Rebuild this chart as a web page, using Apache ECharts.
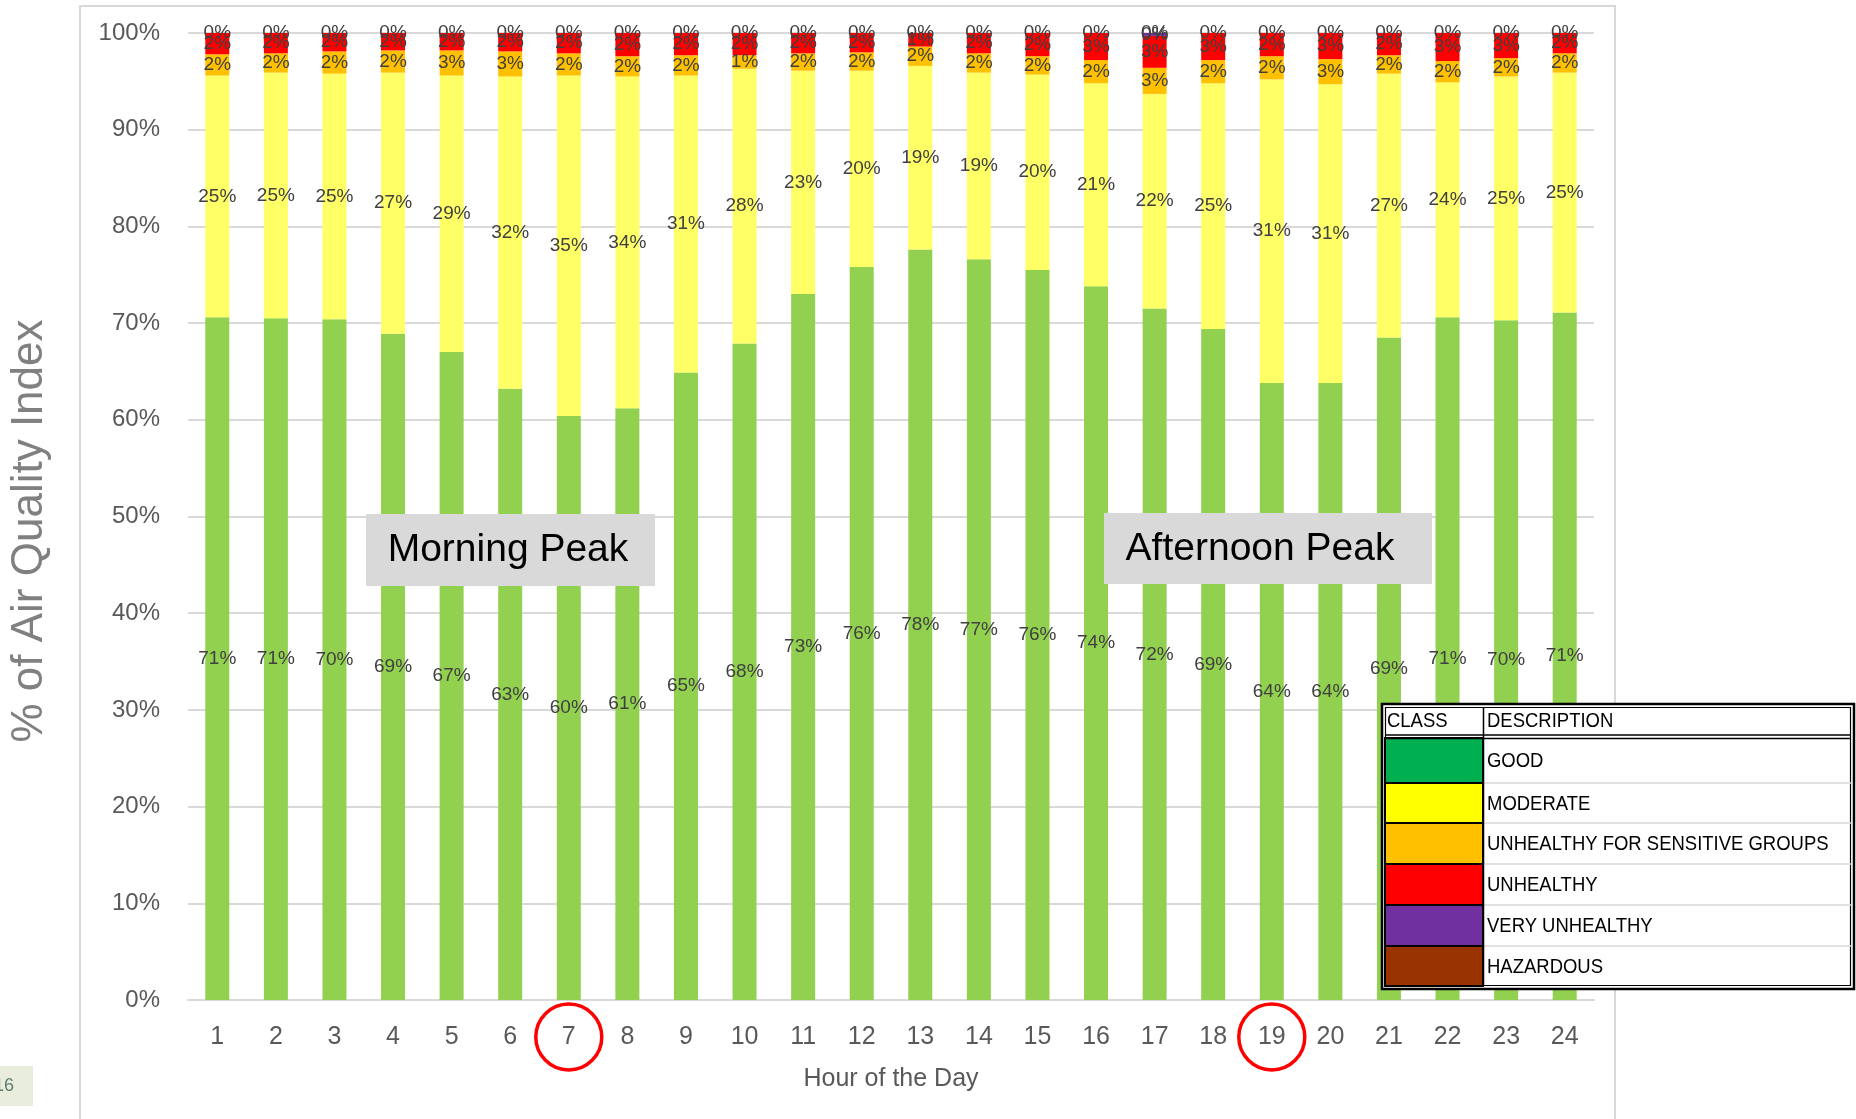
<!DOCTYPE html>
<html>
<head>
<meta charset="utf-8">
<script src="https://cdn.jsdelivr.net/npm/echarts@6/dist/echarts.min.js"></script>
<style>
html,body{margin:0;padding:0;background:#fff;}
#chart{width:1856px;height:1119px;}
</style>
</head>
<body>
<div id="chart"></div>
<script>
const hours = ['1','2','3','4','5','6','7','8','9','10','11','12','13','14','15','16','17','18','19','20','21','22','23','24'];
const good      = [70.6,70.5,70.4,68.9,67.0,63.2,60.4,61.2,64.9,67.9,73.0,75.8,77.6,76.6,75.5,73.8,71.5,69.4,63.8,63.8,68.5,70.6,70.3,71.1];
const moderate  = [25.0,25.4,25.4,27.0,28.6,32.3,35.2,34.3,30.7,28.4,23.1,20.3,19.0,19.3,20.2,21.0,22.2,25.4,31.4,30.9,27.3,24.3,25.2,24.8];
const usg       = [2.2,2.0,2.3,2.3,2.6,2.6,2.3,2.1,2.1,1.4,1.8,1.9,2.0,2.0,1.9,2.4,2.7,2.4,2.4,2.6,1.9,2.2,1.9,2.0];
const unhealthy = [2.2,2.1,1.9,1.8,1.8,1.9,2.1,2.4,2.3,2.3,2.1,2.0,1.4,2.1,2.4,2.8,3.3,2.8,2.4,2.7,2.3,2.9,2.6,2.1];
const veryUnhealthy = [0.02,0.02,0.02,0.02,0.02,0.02,0.02,0.02,0.02,0.02,0.02,0.02,0.02,0.02,0.02,0.02,0.3,0.02,0.02,0.02,0.02,0.02,0.02,0.02];
const hazardous = [0,0,0,0,0,0,0,0,0,0,0,0,0,0,0,0,0,0,0,0,0,0,0,0];
const yTicks = [0,10,20,30,40,50,60,70,80,90,100];
const classNames = ['GOOD','MODERATE','UNHEALTHY FOR SENSITIVE GROUPS','UNHEALTHY','VERY UNHEALTHY','HAZARDOUS'];
const classColors = ['#00B050','#FFFF00','#FFC000','#FF0000','#7030A0','#993300'];
const barColors = ['#92D050','#FFFF66','#FFC000','#FF0000','#7030A0','#993300'];
const seriesData = [good, moderate, usg, unhealthy, veryUnhealthy, hazardous];
const peakHours = ['7','19'];

const chart = echarts.init(document.getElementById('chart'), null, {renderer:'canvas'});

const series = seriesData.map((d, i) => ({
  name: classNames[i],
  type: 'bar',
  stack: 'aqi',
  data: d,
  barWidth: 24,
  itemStyle: {color: barColors[i]},
  label: {
    show: true,
    position: 'inside',
    formatter: p => Math.round(p.value) + '%',
    color: '#404040',
    fontSize: 19,
    fontFamily: 'Liberation Sans'
  },
  emphasis: {disabled: true}
}));

const option = {
  backgroundColor: '#ffffff',
  animation: false,
  grid: {left: 188, right: 262, top: 33, bottom: 119, containLabel: false},
  xAxis: {
    type: 'category',
    data: hours,
    name: 'Hour of the Day',
    nameLocation: 'middle',
    nameGap: 67,
    nameTextStyle: {fontSize: 25, color: '#595959', fontFamily: 'Liberation Sans'},
    axisLine: {lineStyle: {color: '#d9d9d9', width: 2}},
    axisTick: {show: false},
    axisLabel: {fontSize: 25, color: '#595959', margin: 25, fontFamily: 'Liberation Sans'}
  },
  yAxis: {
    type: 'value',
    min: 0, max: 100, interval: 10,
    axisLine: {show: false},
    axisTick: {show: false},
    splitLine: {lineStyle: {color: '#d9d9d9', width: 2}},
    axisLabel: {fontSize: 24, color: '#595959', margin: 28, fontFamily: 'Liberation Sans',
      formatter: v => yTicks.indexOf(v) >= 0 ? v + '%' : ''}
  },
  series: series
};
chart.setOption(option);

const baseY = chart.convertToPixel({yAxisIndex: 0}, 0);
const g = [];
// outer chart frame
g.push({type:'rect', z: -10, shape:{x:80, y:6, width:1535, height:1300}, style:{fill:'none', stroke:'#d9d9d9', lineWidth:2}});
// y axis title
g.push({type:'text', x:30, y:531, rotation: Math.PI/2, z: 5,
  style:{text:'% of Air Quality Index', fontSize:44, fill:'#808080', fontFamily:'Liberation Sans', align:'center', verticalAlign:'middle'}});
// peak annotations
g.push({type:'rect', z:20, shape:{x:366, y:514, width:289, height:72}, style:{fill:'#d9d9d9'}});
g.push({type:'text', z:21, x:508, y:550, style:{text:'Morning Peak', fontSize:39, fill:'#000', fontFamily:'Liberation Sans', align:'center', verticalAlign:'middle'}});
g.push({type:'rect', z:20, shape:{x:1104, y:513, width:328, height:71}, style:{fill:'#d9d9d9'}});
g.push({type:'text', z:21, x:1260, y:549, style:{text:'Afternoon Peak', fontSize:39, fill:'#000', fontFamily:'Liberation Sans', align:'center', verticalAlign:'middle'}});
// red circles around peak hours
peakHours.forEach(h => {
  const cx = chart.convertToPixel({xAxisIndex: 0}, h);
  g.push({type:'circle', z:20, shape:{cx: cx, cy: baseY + 37, r: 33}, style:{fill:'none', stroke:'#FF0000', lineWidth:3.5}});
});
// legend table
const tf = 'Liberation Sans';
const sx = 0.88;
g.push({type:'rect', z:30, shape:{x:1382, y:704, width:472, height:285}, style:{fill:'#fff', stroke:'#000', lineWidth:2.5}});
g.push({type:'rect', z:31, shape:{x:1385.5, y:707.5, width:465, height:278}, style:{fill:'none', stroke:'#000', lineWidth:1.2}});
g.push({type:'text', z:33, x:1387, y:721, scaleX:sx, style:{text:'CLASS', fontSize:21, fill:'#000', fontFamily:tf, verticalAlign:'middle'}});
g.push({type:'text', z:33, x:1487, y:721, scaleX:sx, style:{text:'DESCRIPTION', fontSize:21, fill:'#000', fontFamily:tf, verticalAlign:'middle'}});
const rowB = [738, 783, 823, 864, 905, 946, 986];
for (let i = 0; i < 6; i++) {
  g.push({type:'rect', z:31, shape:{x:1385, y:rowB[i], width:98, height:rowB[i+1]-rowB[i]}, style:{fill:classColors[i], stroke:'#000', lineWidth:2}});
  if (i > 0) g.push({type:'line', z:31, shape:{x1:1484, y1:rowB[i], x2:1851, y2:rowB[i]}, style:{stroke:'#d9d9d9', lineWidth:1.5}});
  g.push({type:'text', z:33, x:1487, y:(rowB[i]+rowB[i+1])/2 + 1, scaleX:sx, style:{text:classNames[i], fontSize:21, fill:'#000', fontFamily:tf, verticalAlign:'middle'}});
}
g.push({type:'line', z:32, shape:{x1:1385, y1:735, x2:1851, y2:735}, style:{stroke:'#000', lineWidth:1.5}});
g.push({type:'line', z:32, shape:{x1:1385, y1:738.5, x2:1851, y2:738.5}, style:{stroke:'#000', lineWidth:1.5}});
g.push({type:'line', z:32, shape:{x1:1483.5, y1:707, x2:1483.5, y2:986}, style:{stroke:'#000', lineWidth:1.5}});
// small tag bottom-left
g.push({type:'rect', z:5, shape:{x:0, y:1066, width:33, height:40}, style:{fill:'#e8eedb'}});
g.push({type:'text', z:6, x:-6, y:1086, style:{text:'16', fontSize:18, fill:'#5f7d72', fontFamily:'Liberation Sans', verticalAlign:'middle'}});

chart.setOption({graphic: g});
</script>
</body>
</html>
